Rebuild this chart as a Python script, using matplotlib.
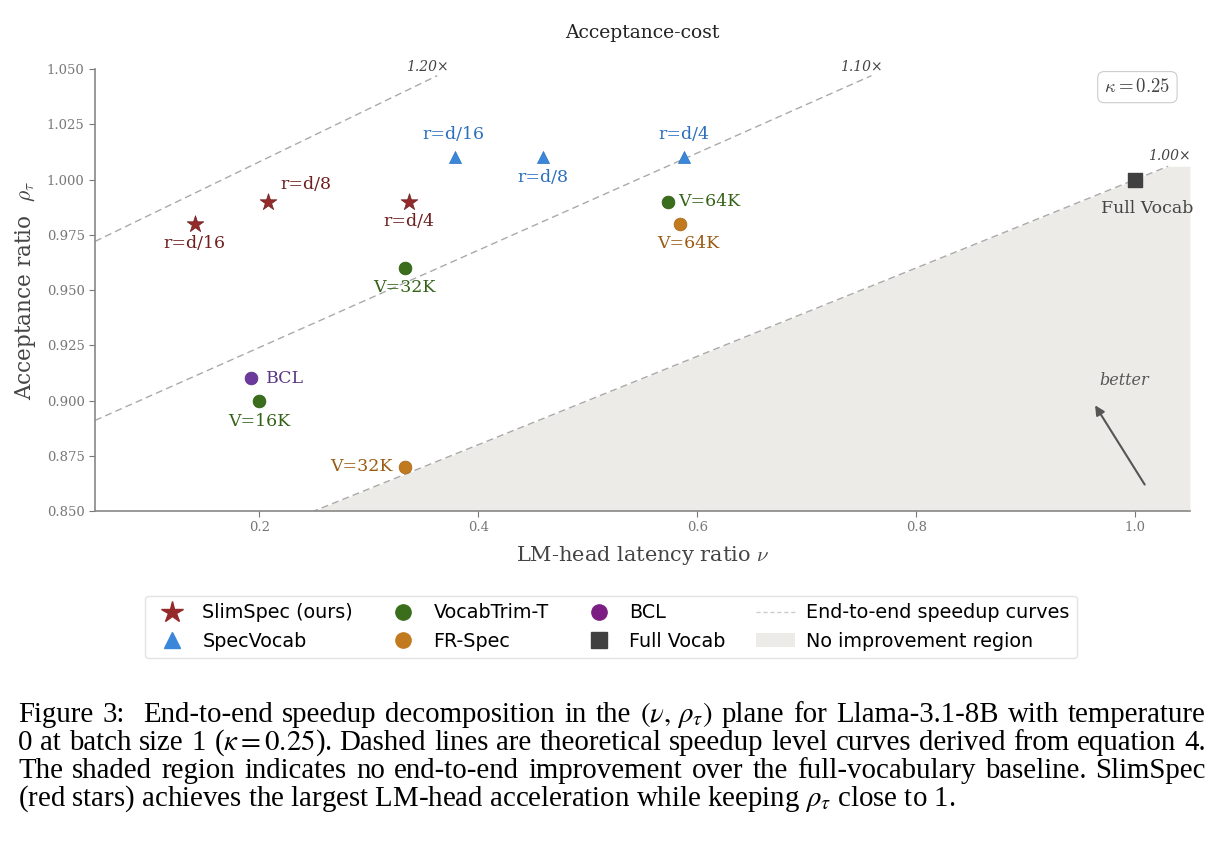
import re
import numpy as np
import matplotlib
matplotlib.use("Agg")
from matplotlib import pyplot as plt
from matplotlib.lines import Line2D
from matplotlib.patches import Patch

plt.rcParams['font.family'] = 'DejaVu Serif'
plt.rcParams['mathtext.fontset'] = 'cm'

kappa = 0.25
speedups = [1.20, 1.10, 1.00]

slim_nu = [0.141, 0.208, 0.337]
slim_rho = [0.98, 0.99, 0.99]
slim_labels = ['r=d/16', 'r=d/8', 'r=d/4']

spec_nu = [0.379, 0.459, 0.588]
spec_rho = [1.01, 1.01, 1.01]
spec_labels = ['r=d/16', 'r=d/8', 'r=d/4']

trim_nu = [0.200, 0.333, 0.573]
trim_rho = [0.90, 0.96, 0.99]
trim_labels = ['V=16K', 'V=32K', 'V=64K']

fr_nu = [0.333, 0.584]
fr_rho = [0.87, 0.98]
fr_labels = ['V=32K', 'V=64K']

bcl_nu = [0.192]
bcl_rho = [0.91]

full_nu = [1.0]
full_rho = [1.0]

c_slim, c_slim_t = '#942a2a', '#6e1f1f'
c_spec, c_spec_t = '#3a87d9', '#2b6fbd'
c_trim, c_trim_t = '#3b6e1c', '#346318'
c_fr, c_fr_t = '#c27a1f', '#9a5b14'
c_bcl, c_bcl_t = '#6b3a9c', '#5b3a85'
c_full = '#404040'

fig = plt.figure(figsize=(12.25, 8.49), dpi=100)
ax = fig.add_axes([0.0776, 0.3981, 0.8938, 0.5206])
xmin, xmax, ymin, ymax = 0.05, 1.05, 0.85, 1.05
ax.set_xlim(xmin, xmax)
ax.set_ylim(ymin, ymax)


def curve(nu, s):
    return s * (1.0 / (1 + kappa) + kappa / (1 + kappa) * nu)


# shaded no-improvement region
nu_end1 = 1.03
xs = np.linspace(xmin, xmax, 400)
ax.fill_between(xs, ymin, np.minimum(curve(xs, 1.0), curve(nu_end1, 1.0)),
                color='#ecebe7', lw=0, zorder=0)

for s in speedups:
    nu_top = (1.047 / s - 1 / (1 + kappa)) * (1 + kappa) / kappa
    nu_end = min(nu_top, nu_end1)
    xx = np.linspace(xmin, nu_end, 200)
    ax.plot(xx, curve(xx, s), ls=(0, (5, 3)), color='#aaaaaa', lw=1.0, zorder=1)
    off = (-10, 9) if s > 1.0 else (1, 10)
    ax.annotate(f'{s:.2f}\u00d7', (nu_end, curve(nu_end, s)), textcoords='offset pixels',
                xytext=off, ha='center', va='center', fontsize=10, style='italic',
                color='#444444', annotation_clip=False)

ax.scatter(slim_nu, slim_rho, marker='*', s=160, color=c_slim, edgecolor='#6e1f1f', lw=0.5, zorder=3)
ax.scatter(spec_nu, spec_rho, marker='^', s=75, color=c_spec, edgecolor='#2b6fbd', lw=0.5, zorder=3)
ax.scatter(trim_nu, trim_rho, marker='o', s=85, color=c_trim, edgecolor='#2f5a14', lw=0.5, zorder=3)
ax.scatter(fr_nu, fr_rho, marker='o', s=85, color=c_fr, edgecolor='#a5661a', lw=0.5, zorder=3)
ax.scatter(bcl_nu, bcl_rho, marker='o', s=85, color=c_bcl, edgecolor='#5b3085', lw=0.5, zorder=3)
ax.scatter(full_nu, full_rho, marker='s', s=110, color=c_full, zorder=3)

fs = 12.5


def lab(x, y, t, c, dx, dy, ha='center'):
    ax.annotate(t, (x, y), textcoords='offset pixels', xytext=(dx, dy),
                ha=ha, va='center', fontsize=fs, color=c)


slim_off = [(0, -20), (38, 17), (0, -20)]
for x, y, t, o in zip(slim_nu, slim_rho, slim_labels, slim_off):
    lab(x, y, t, c_slim_t, *o)
spec_off = [(-2, 23), (0, -20), (0, 23)]
for x, y, t, o in zip(spec_nu, spec_rho, spec_labels, spec_off):
    lab(x, y, t, c_spec_t, *o)
lab(trim_nu[0], trim_rho[0], trim_labels[0], c_trim_t, 0, -21)
lab(trim_nu[1], trim_rho[1], trim_labels[1], c_trim_t, 0, -20)
lab(trim_nu[2], trim_rho[2], trim_labels[2], c_trim_t, 10, 0, ha='left')
lab(fr_nu[0], fr_rho[0], fr_labels[0], c_fr_t, -12, 0, ha='right')
lab(fr_nu[1], fr_rho[1], fr_labels[1], c_fr_t, 9, -20)
lab(bcl_nu[0], bcl_rho[0], 'BCL', c_bcl_t, 15, 0, ha='left')
lab(full_nu[0], full_rho[0], 'Full Vocab', '#444444', 12, -29)

# better arrow
ax.annotate('', xy=(0.962, 0.8989), xytext=(1.010, 0.8609),
            arrowprops=dict(arrowstyle='-|>', color='#555555', lw=1.5, mutation_scale=14))
ax.text(0.99, 0.909, 'better', style='italic', fontsize=11.5, color='#555555',
        ha='center', va='center')

ax.text(0.952, 0.959, r'$\kappa = 0.25$', transform=ax.transAxes, ha='center', va='center',
        fontsize=13.5, color='#444444',
        bbox=dict(boxstyle='round,pad=0.35', fc='white', ec='#cccccc', lw=0.8))

ax.set_title('Acceptance-cost', fontsize=13.5, color='#222222', pad=22)
ax.set_xlabel(r'LM-head latency ratio $\nu$', fontsize=15, color='#444444', labelpad=7)
ax.set_ylabel(r'Acceptance ratio  $\rho_\tau$', fontsize=15.5, color='#444444', labelpad=6)

ax.set_xticks([0.2, 0.4, 0.6, 0.8, 1.0])
ax.set_yticks([0.85, 0.875, 0.9, 0.925, 0.95, 0.975, 1.0, 1.025, 1.05])
ax.xaxis.set_major_formatter(matplotlib.ticker.FormatStrFormatter('%.1f'))
ax.yaxis.set_major_formatter(matplotlib.ticker.FormatStrFormatter('%.3f'))
ax.tick_params(labelsize=9.5, colors='#777777', length=4, width=0.8)
for sp in ['top', 'right']:
    ax.spines[sp].set_visible(False)
for sp in ['left', 'bottom']:
    ax.spines[sp].set_color('#888888')
    ax.spines[sp].set_linewidth(1.2)

handles = [
    Line2D([], [], marker='*', ls='', color=c_slim, markersize=16, label='SlimSpec (ours)'),
    Line2D([], [], marker='^', ls='', color=c_spec, markersize=11, label='SpecVocab'),
    Line2D([], [], marker='o', ls='', color=c_trim, markersize=11, label='VocabTrim-T'),
    Line2D([], [], marker='o', ls='', color=c_fr, markersize=11, label='FR-Spec'),
    Line2D([], [], marker='o', ls='', color='#7b1d82', markersize=11, label='BCL'),
    Line2D([], [], marker='s', ls='', color=c_full, markersize=11, label='Full Vocab'),
    Line2D([], [], ls=(0, (3, 2)), color='#cccccc', lw=1, label='End-to-end speedup curves'),
    Patch(facecolor='#ecebe7', edgecolor='none', label='No improvement region'),
]
fig.legend(handles=handles, loc='center', bbox_to_anchor=(611 / 1225, 1 - 627 / 849), ncol=4,
           prop={'family': 'DejaVu Sans', 'size': 13.8}, frameon=True, edgecolor='#dddddd',
           fancybox=True, columnspacing=1.6, handletextpad=0.6, handlelength=2.0)

caption = [
    r'Figure 3:  End-to-end speedup decomposition in the $(\nu,\!\ \rho_\tau)$ plane for Llama-3.1-8B with temperature',
    r'0 at batch size 1 ($\kappa = 0.25$). Dashed lines are theoretical speedup level curves derived from equation 4.',
    r'The shaded region indicates no end-to-end improvement over the full-vocabulary baseline. SlimSpec',
    r'(red stars) achieves the largest LM-head acceleration while keeping $\rho_\tau$ close to 1.',
]
cap_left, cap_right = 18, 1206
cap_kw = dict(ha='left', va='center', fontsize=20.8, family='Liberation Serif',
              math_fontfamily='stix', color='black')
renderer = fig.canvas.get_renderer()
for i, line in enumerate(caption):
    y = 1 - (715 + 28 * i) / 849
    if i == len(caption) - 1:
        fig.text(cap_left / 1225, y, line, **cap_kw)
        continue
    # justify the line: words (math kept whole), gaps stretched; a double space counts twice
    words = re.findall(r'(?:\$[^$]*\$|[^\s$])+', line)
    weights = [2.0 if w.endswith(':') else 1.0 for w in words[:-1]]
    texts = [fig.text(0, y, w, **cap_kw) for w in words]
    widths = [t.get_window_extent(renderer).width for t in texts]
    unit = (cap_right - cap_left - sum(widths)) / sum(weights)
    x = cap_left
    for j, (t, w) in enumerate(zip(texts, widths)):
        t.set_x(x / 1225)
        if j < len(weights):
            x += w + unit * weights[j]

fig.savefig('out.png', dpi=100)
